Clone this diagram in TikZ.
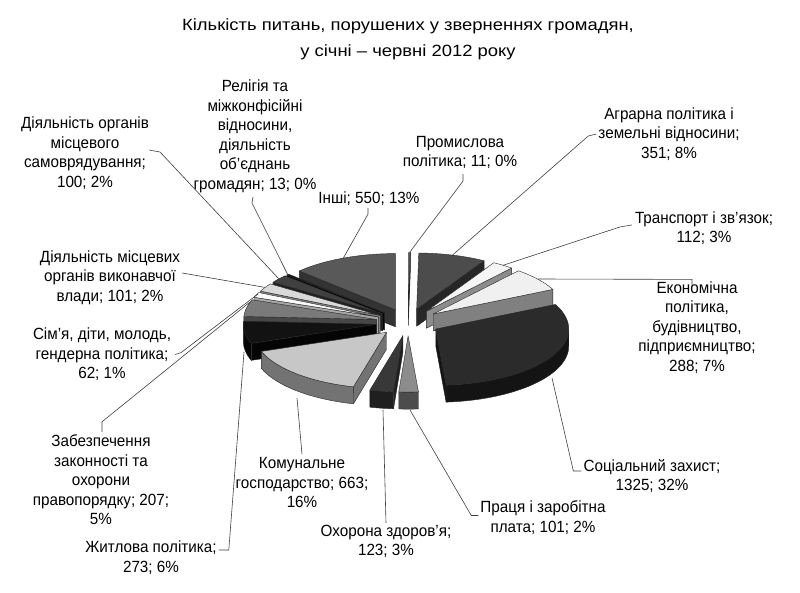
\documentclass[tikz,border=0pt]{standalone}
\usepackage{fontspec}
\setmainfont{Liberation Sans}
\newfontfamily\lblfamily{Liberation Sans}[FakeStretch=0.94]
\newfontfamily\ttlfamily{Liberation Sans}[FakeStretch=1.13]
\usetikzlibrary{calc}
\def\pcx{408}\def\pcy{322.3}\def\pR{133}\def\pE{32}\def\pk{0.423}\def\pdep{17}
\tikzset{
 pieface/.style={draw=black!85, line width=0.4pt, line join=round},
 lead/.style={draw=black!75, line width=0.6pt},
 lbl/.style={align=center, inner sep=0pt, font=\lblfamily\fontsize{16.2}{19.5}\selectfont},
 ttl/.style={align=center, inner sep=0pt, font=\ttlfamily\fontsize{16.3}{26}\selectfont},
}
\newcommand\pieslice[4]{%
  \pgfmathsetmacro\sa{#1}%
  \pgfmathsetmacro\sb{#2}%
  \pgfmathsetmacro\sm{(\sa+\sb)/2}%
  \pgfmathsetmacro\ox{\pcx+\pE*cos(\sm)}%
  \pgfmathsetmacro\oy{\pcy-\pk*\pE*sin(\sm)}%
  \pgfmathsetmacro\kR{\pk*\pR}%
  \coordinate (A) at (\ox,\oy);%
  \coordinate (PA) at ({\ox+\pR*cos(\sa)},{\oy-\kR*sin(\sa)});%
  \coordinate (PB) at ({\ox+\pR*cos(\sb)},{\oy-\kR*sin(\sb)});%
  \pgfmathparse{cos(\sa)<0?1:0}%
  \ifdim\pgfmathresult pt>0.5pt
    \filldraw[pieface,fill=#4] (A) -- (PA) -- ($(PA)+(0,\pdep)$) -- ($(A)+(0,\pdep)$) -- cycle;%
  \fi
  \pgfmathparse{cos(\sb)>0?1:0}%
  \ifdim\pgfmathresult pt>0.5pt
    \filldraw[pieface,fill=#4] (A) -- (PB) -- ($(PB)+(0,\pdep)$) -- ($(A)+(0,\pdep)$) -- cycle;%
  \fi
  \pgfmathsetmacro\lo{max(\sb,-180)}%
  \pgfmathsetmacro\hi{min(\sa,0)}%
  \ifdim\hi pt>\lo pt
    \filldraw[pieface,fill=#4] plot[domain=\lo:\hi,samples=40] ({\ox+\pR*cos(\x)},{\oy-\kR*sin(\x)}) -- plot[domain=\hi:\lo,samples=40] ({\ox+\pR*cos(\x)},{\oy+\pdep-\kR*sin(\x)}) -- cycle;%
  \fi
  \filldraw[pieface,fill=#3] (A) -- plot[domain=\sa:\sb,samples=40] ({\ox+\pR*cos(\x)},{\oy-\kR*sin(\x)}) -- cycle;%
}
\begin{document}
\begin{tikzpicture}[x=1pt,y=-1pt]
\fill[white] (0,0) rectangle (800,592);
\useasboundingbox (0,0) rectangle (800,592);
% slices, back to front
\pieslice{90}{89.075}{black!65}{black!80}          % Промислова
\pieslice{89.075}{59.552}{black!70}{black!85}      % Аграрна
\pieslice{-223.737}{-270}{black!65}{black!80}      % Інші
\pieslice{59.552}{50.131}{black!4}{black!45}       % Транспорт
\pieslice{-222.644}{-223.737}{black!92}{black}     % Релігія
\pieslice{-214.233}{-222.644}{black!75}{black!88}  % Самоврядування
\pieslice{50.131}{25.907}{black!6}{black!50}       % Економічна
\pieslice{-205.738}{-214.233}{black!15}{black!50}  % Виконавчої
\pieslice{-200.523}{-205.738}{black!2}{black!35}   % Сім'я
\pieslice{-183.112}{-200.523}{black!52}{black!72}  % Забезпечення
\pieslice{-160.149}{-183.112}{black!93}{black!98}  % Житлова
\pieslice{25.907}{-85.542}{black!83}{black!92}     % Соціальний
\pieslice{-104.383}{-160.149}{black!22}{black!55}  % Комунальне
\pieslice{-94.037}{-104.383}{black!78}{black!88}   % Охорона
\pieslice{-85.542}{-94.037}{black!45}{black!70}    % Праця

% title
\node[ttl] (title) at (408,39) {Кількість питань, порушених у зверненнях громадян,\\у січні – червні 2012 року};

% labels
\node[lbl] (rel) at (255,136.5) {Релігія та\\міжконфісійні\\відносини,\\діяльність\\об’єднань\\громадян; 13; 0\%};
\node[lbl] (sam) at (85,153) {Діяльність органів\\місцевого\\самоврядування;\\100; 2\%};
\node[lbl] (prom) at (460,152.5) {Промислова\\політика; 11; 0\%};
\node[lbl] (agr) at (669,134) {Аграрна політика і\\земельні відносини;\\351; 8\%};
\node[lbl] (insh) at (369,199) {Інші; 550; 13\%};
\node[lbl] (tran) at (704,228) {Транспорт і зв’язок;\\112; 3\%};
\node[lbl] (eko) at (697,327.5) {Економічна\\політика,\\будівництво,\\підприємництво;\\288; 7\%};
\node[lbl] (vyk) at (110,277.5) {Діяльність місцевих\\органів виконавчої\\влади; 101; 2\%};
\node[lbl] (sim) at (102,354.5) {Сім’я, діти, молодь,\\гендерна політика;\\62; 1\%};
\node[lbl] (zab) at (101,480) {Забезпечення\\законності та\\охорони\\правопорядку; 207;\\5\%};
\node[lbl] (zhyt) at (151,557.5) {Житлова політика;\\273; 6\%};
\node[lbl] (kom) at (302,482.5) {Комунальне\\господарство; 663;\\16\%};
\node[lbl] (okh) at (386,541.5) {Охорона здоров’я;\\123; 3\%};
\node[lbl] (pra) at (543,517.5) {Праця і заробітна\\плата; 101; 2\%};
\node[lbl] (soc) at (652,476) {Соціальний захист;\\1325; 32\%};

% leader end points on slices
\coordinate (sRel) at (287.7,274.5);
\coordinate (sSam) at (279,279);
\coordinate (sProm) at (409.5,252.5);
\coordinate (sAgr) at (452.6,255);
\coordinate (sInsh) at (343.3,258.1);
\coordinate (sTran) at (503,265.3);
\coordinate (sEko) at (538,279);
\coordinate (sVyk) at (265,287.4);
\coordinate (sSim) at (258,294);
\coordinate (sZab) at (250,302);
\coordinate (sZhyt) at (244,352);
\coordinate (sKom) at (297,398);
\coordinate (sOkh) at (383,410);
\coordinate (sPra) at (410,410);
\coordinate (sSoc) at (552,378);

\draw[lead] (rel.south) ++(-2,4) coordinate (bRel) -- ++(-1,6) coordinate (cRel) -- (sRel);
\draw[lead] (sam.east) ++(0,-3) coordinate (bSam) -- (160,152) coordinate (cSam) -- (sSam);
\draw[lead] (prom.south) ++(3,5) coordinate (bProm) -- ++(0,7) -- (sProm);
\draw[lead] (agr.west) ++(-2,0) coordinate (bAgr) -- ++(-8,2) -- (sAgr);
\draw[lead] (insh.south) ++(-1,2) coordinate (bInsh) -- ++(0,6) -- (sInsh);
\draw[lead] (tran.west) ++(-3,-3) coordinate (bTran) -- ++(-12,2) -- (sTran);
\draw[lead] (eko.north) ++(-5,5) coordinate (bEko) -- ++(0,-7) -- (sEko);
\draw[lead] (vyk.east) ++(2,-4.5) coordinate (bVyk) -- (sVyk);
\draw[lead] (sim.east) ++(4,0) coordinate (bSim) -- ++(6,-2) -- (sSim);
\draw[lead] (zab.north) ++(1,-3) coordinate (bZab) -- ++(0,-10) -- (sZab);
\draw[lead] (zhyt.east) ++(2,-7.5) coordinate (bZhyt) -- ++(10,0) -- (sZhyt);
\draw[lead] (kom.north) ++(0,-3) coordinate (bKom) -- (sKom);
\draw[lead] (okh.north) ++(0,-2) coordinate (bOkh) -- (sOkh);
\draw[lead] (pra.west) ++(-2,-2) coordinate (bPra) -- ++(-7,0) -- (sPra);
\draw[lead] (soc.west) ++(-2,-5) coordinate (bSoc) -- ++(-8,0) -- (sSoc);
\end{tikzpicture}
\end{document}
